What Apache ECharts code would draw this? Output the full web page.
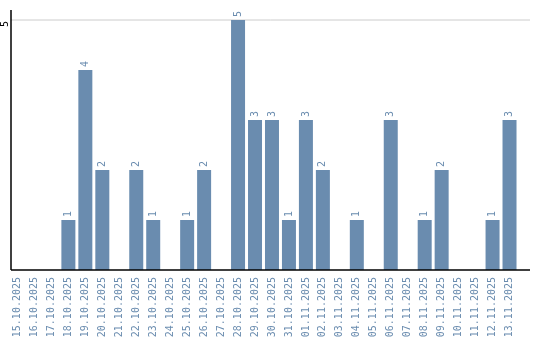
<!DOCTYPE html>
<html><head><meta charset="utf-8">
<script src="https://cdn.jsdelivr.net/npm/echarts@6/dist/echarts.min.js"></script>
<style>html,body{margin:0;padding:0;background:#fff}#c{width:540px;height:340px}</style>
</head><body><div id="c"></div>
<script>
const categories = ["15.10.2025","16.10.2025","17.10.2025","18.10.2025","19.10.2025","20.10.2025","21.10.2025","22.10.2025","23.10.2025","24.10.2025","25.10.2025","26.10.2025","27.10.2025","28.10.2025","29.10.2025","30.10.2025","31.10.2025","01.11.2025","02.11.2025","03.11.2025","04.11.2025","05.11.2025","06.11.2025","07.11.2025","08.11.2025","09.11.2025","10.11.2025","11.11.2025","12.11.2025","13.11.2025"];
const values = [0,0,0,1,4,2,0,2,1,0,1,2,0,5,3,3,1,3,2,0,1,0,3,0,1,2,0,0,1,3];
const yTicks = [0,5];

const chart = echarts.init(document.getElementById('c'), null, {renderer:'canvas'});
const font = 'DejaVu Sans Mono';
chart.setOption({
  animation:false,
  grid:{left:9, right:22, top:20, bottom:70, containLabel:false, outerBoundsMode:'none'},
  xAxis:{type:'category', data:categories,
    axisLine:{show:false},
    axisTick:{show:false},
    axisLabel:{rotate:90, interval:0, color:'#6a8caf', fontFamily:font, fontSize:10, margin:7}
  },
  yAxis:{type:'value', min:yTicks[0], max:yTicks[1], interval:5,
    axisLine:{show:false},
    axisTick:{show:false},
    splitLine:{show:false},
    axisLabel:{rotate:90, align:'center', verticalAlign:'middle', color:'#000', fontFamily:font, fontSize:10, margin:4,
      padding:[0,8,0,0],
      formatter:function(v){return v===0?'':String(v);}}
  },
  series:[{type:'bar', data:values, barWidth:14, itemStyle:{color:'#6a8caf'},
    label:{show:true, position:'top', rotate:90, align:'left', verticalAlign:'middle', distance:3,
      color:'#6a8caf', fontFamily:font, fontSize:10,
      formatter:function(p){return p.value>0?String(p.value):'';}}
  }]
});
const y0 = chart.convertToPixel({yAxisIndex:0}, yTicks[0]);
const y5 = chart.convertToPixel({yAxisIndex:0}, yTicks[1]);
chart.setOption({graphic:[
  {type:'line', shape:{x1:11, y1:y5, x2:530, y2:y5}, style:{stroke:'#cccccc', lineWidth:1}, z:-1, silent:true},
  {type:'line', shape:{x1:11, y1:y0, x2:530, y2:y0}, style:{stroke:'#000', lineWidth:1.5}, z:100},
  {type:'line', shape:{x1:11, y1:10, x2:11, y2:y0}, style:{stroke:'#000', lineWidth:1.5}, z:100}
]});
</script></body></html>
